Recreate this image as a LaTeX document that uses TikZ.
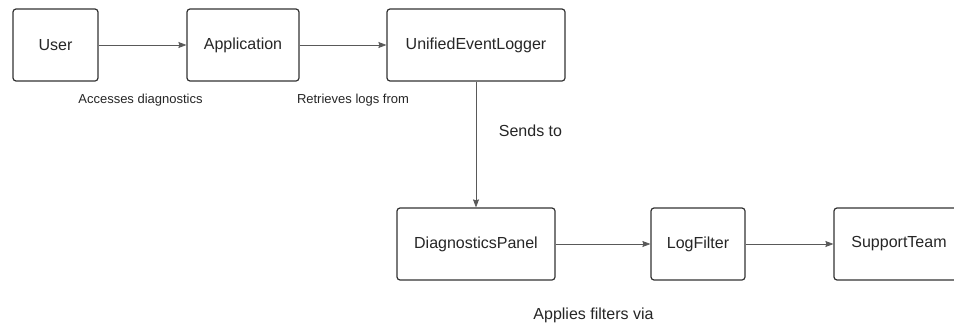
\documentclass[tikz,border=0pt]{standalone}
\usepackage{fontspec}
\setmainfont{Liberation Sans}
\usepackage{tikz}
\usetikzlibrary{positioning,arrows.meta}

\begin{document}
\begin{tikzpicture}[->,>={Stealth[length=8pt,width=6pt,inset=1pt]},x=1pt,y=1pt,
    every node/.style={font=\fontsize{16}{19}\selectfont},
    box/.style={draw=black!80,line width=1.2pt,rounded corners=3pt,
      minimum height=72pt,inner sep=0pt,text=black!85},
    link/.style={draw=black!65,line width=0.7pt},
    small/.style={font=\fontsize{13}{16}\selectfont,text=black!85},
    tag/.style={text=black!85}]
    \useasboundingbox[fill=white] (0,0) rectangle (954,-327);
        \node[box,minimum width=85pt] (user) at (55.5,-45) {User};
        \node[box,minimum width=112pt] (app) at (243,-45) {Application};
        \node[box,minimum width=178pt] (logger) at (476,-45) {UnifiedEventLogger};
        \node[box,minimum width=158pt] (panel) at (476,-244) {DiagnosticsPanel};
        \node[box,minimum width=94pt] (filter) at (698,-244) {LogFilter};
        \node[box,minimum width=130pt] (team) at (899,-244) {SupportTeam};

        % edges with their labels
        \draw[link] (user) -- (app);
        \node[small] (lbl1) at (140.5,-100) {Accesses diagnostics};
        \draw[link] (app) -- (logger);
        \node[small] (lbl2) at (353,-100) {Retrieves logs from};
        \draw[link] (logger) -- (panel);
        \node[tag] (lbl3) at (530.5,-131) {Sends to};
        \draw[link] (panel) -- (filter);
        \node[tag] (lbl4) at (593.5,-315) {Applies filters via};
        \draw[link] (filter) -- (team);
\end{tikzpicture}
\end{document}
